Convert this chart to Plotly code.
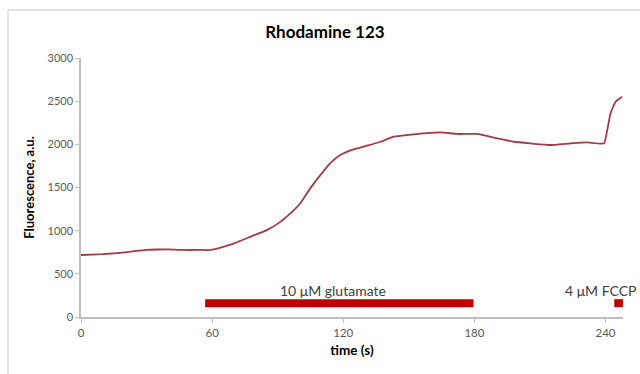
import plotly.graph_objects as go

# Rhodamine 123 fluorescence trace
time_s = [0, 5, 10, 15, 20, 25, 30, 35, 40, 45, 50, 55, 58, 60.6, 65, 69.8, 77.4, 85,
          91.2, 95.8, 100.3, 104.9, 109.5, 114, 118.6, 124.7, 130.9, 137, 143.1, 152.2,
          164.5, 172.1, 181.3, 190.5, 198.1, 205.7, 214.8, 224, 231.6, 239.3, 240.8,
          242.3, 244.6, 247.6]
fluor = [718, 722, 728, 738, 748, 765, 778, 782, 784, 778, 776, 778, 775, 782, 812, 851,
         928, 1006, 1102, 1200, 1315, 1490, 1644, 1780, 1876, 1942, 1984, 2030, 2088, 2116,
         2139, 2120, 2120, 2069, 2030, 2011, 1992, 2011, 2023, 2011, 2166, 2360, 2494, 2552]

# Treatment bars
glu_t = [56.8, 179.6]
fccp_t = [244, 248]
bar_level = [160, 160]

x_ticks = [0, 60, 120, 180, 240]
y_ticks = [0, 500, 1000, 1500, 2000, 2500, 3000]

fig = go.Figure()
fig.add_trace(go.Scatter(x=time_s, y=fluor, mode="lines",
                         line=dict(color="#a33a48", width=1.8, shape="spline", smoothing=0.4),
                         showlegend=False, hoverinfo="skip"))
fig.add_trace(go.Scatter(x=glu_t, y=bar_level, mode="lines",
                         line=dict(color="#c00000", width=8), showlegend=False))
fig.add_trace(go.Scatter(x=fccp_t, y=bar_level, mode="lines",
                         line=dict(color="#c00000", width=8), showlegend=False, cliponaxis=False))

font_main = "Lato, Open Sans, sans-serif"

fig.add_annotation(x=115.5, y=310, text="10 \u03bcM glutamate", showarrow=False,
                   font=dict(family=font_main, size=14, color="#404040"))
fig.add_annotation(x=(638 - 81) / 542, xref="paper", y=310, text="4 \u03bcM FCCP", showarrow=False,
                   xanchor="right",
                   font=dict(family=font_main, size=14, color="#404040"))

# outer chart frame
fig.add_shape(type="line", xref="paper", yref="paper", x0=-0.1347, x1=1.05, y0=1.185, y1=1.185,
              line=dict(color="#d9d9d9", width=1.5))
fig.add_shape(type="line", xref="paper", yref="paper", x0=-0.1347, x1=-0.1347, y0=1.185, y1=-0.25,
              line=dict(color="#d9d9d9", width=1.5))

fig.update_layout(
    width=640, height=374,
    margin=dict(l=81, r=17, t=58, b=57),
    paper_bgcolor="white", plot_bgcolor="white",
    title=dict(text="<b>Rhodamine 123</b>", x=325 / 640, xanchor="center",
               y=1 - 32 / 374, yanchor="middle",
               font=dict(family=font_main, size=17, color="#000000")),
    xaxis=dict(range=[0, 248], tickvals=x_ticks, showgrid=False, zeroline=False,
               showline=True, linecolor="#bfbfbf", linewidth=1.5,
               ticks="outside", ticklen=4, tickcolor="#bfbfbf",
               tickfont=dict(family=font_main, size=11.5, color="#595959"),
               title=dict(text="<b>time (s)</b>", standoff=8,
                          font=dict(family=font_main, size=13.5, color="#000000"))),
    yaxis=dict(range=[0, 3000], tickvals=y_ticks, showgrid=False, zeroline=False,
               showline=True, linecolor="#bfbfbf", linewidth=1.5,
               ticks="outside", ticklen=4, tickcolor="#bfbfbf",
               tickfont=dict(family=font_main, size=11, color="#595959"),
               title=dict(text="<b>Fluorescence, a.u.</b>", standoff=10,
                          font=dict(family=font_main, size=13, color="#000000"))),
)

fig.write_html("out.html")
